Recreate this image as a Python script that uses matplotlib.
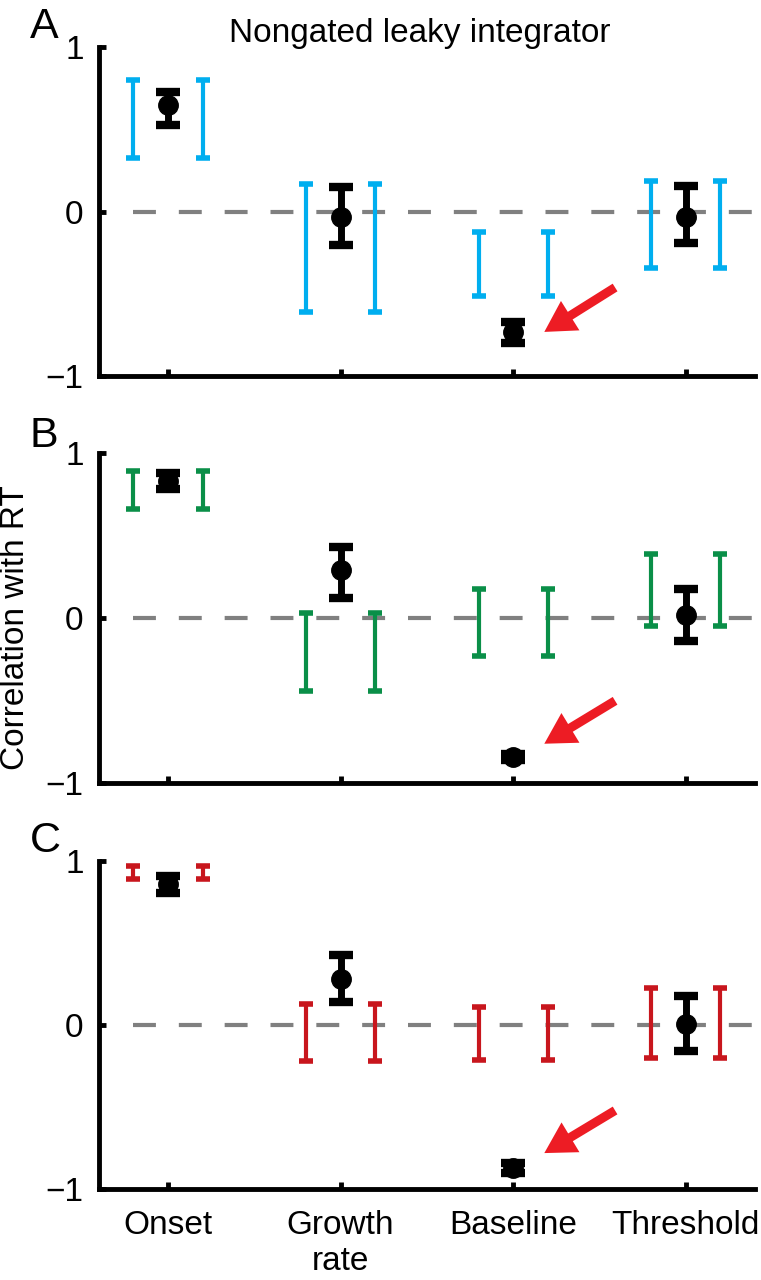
import matplotlib
matplotlib.use("Agg")
import matplotlib.pyplot as plt
import numpy as np

plt.rcParams['font.family'] = ['Liberation Sans', 'DejaVu Sans']

categorias = ['Onset', 'Growth\nrate', 'Baseline', 'Threshold']
paneles = ['A', 'B', 'C']
colores = ['#00AEEF', '#0A8F48', '#C8161D']

# intervalos de los modelos (bajo, alto) por panel
modelo_bajo = [[0.33, -0.61, -0.51, -0.34],
               [0.66, -0.44, -0.23, -0.05],
               [0.89, -0.22, -0.21, -0.20]]
modelo_alto = [[0.80, 0.17, -0.12, 0.19],
               [0.89, 0.03, 0.18, 0.39],
               [0.97, 0.13, 0.11, 0.23]]

# datos (media, bajo, alto)
datos_media = [[0.65, -0.03, -0.73, -0.03],
               [0.83, 0.29, -0.84, 0.02],
               [0.86, 0.28, -0.87, 0.01]]
datos_bajo = [[0.53, -0.20, -0.80, -0.19],
              [0.78, 0.12, -0.86, -0.14],
              [0.81, 0.14, -0.90, -0.16]]
datos_alto = [[0.73, 0.15, -0.67, 0.16],
              [0.88, 0.43, -0.82, 0.18],
              [0.91, 0.43, -0.84, 0.18]]

# flechas: (x_cola, y_cola, x_punta, y_punta)
flechas = [(3.59, -0.46, 3.18, -0.73),
           (3.59, -0.50, 3.18, -0.76),
           (3.59, -0.52, 3.18, -0.78)]

fig = plt.figure(figsize=(7.61, 12.8), dpi=100)
posiciones = [[0.130, 0.706, 0.862, 0.257],
              [0.130, 0.388, 0.862, 0.258],
              [0.130, 0.071, 0.862, 0.256]]
letras_y = [0.970, 0.651, 0.334]

x = np.arange(1, 5)
for i in range(3):
    ax = fig.add_axes(posiciones[i])
    ax.plot([0.8, 4.4], [0, 0], color='#808080', lw=3, dashes=(5.5, 5.5), zorder=1)
    lo = np.array(modelo_bajo[i])
    hi = np.array(modelo_alto[i])
    for off in (-0.2, 0.2):
        ax.errorbar(x + off, (lo + hi) / 2, yerr=(hi - lo) / 2, fmt='none',
                    ecolor=colores[i], elinewidth=3, capsize=5, capthick=4,
                    zorder=2, clip_on=False)
    m = np.array(datos_media[i])
    ax.errorbar(x, m, yerr=[m - np.array(datos_bajo[i]), np.array(datos_alto[i]) - m],
                fmt='o', color='black', ms=14, elinewidth=5, capsize=8.6,
                capthick=6, zorder=3, clip_on=False)
    xt, yt, xp, yp = flechas[i]
    ax.annotate('', xy=(xp, yp), xytext=(xt, yt),
                arrowprops=dict(facecolor='#ED1C24', edgecolor='none', width=6.5,
                                headwidth=25, headlength=22, shrink=0))
    ax.set_xlim(0.6, 4.4)
    ax.set_ylim(-1, 1)
    ax.set_yticks([-1, 0, 1])
    ax.set_xticks(x)
    if i == 2:
        ax.set_xticklabels(categorias)
    else:
        ax.set_xticklabels([])
    ax.spines['top'].set_visible(False)
    ax.spines['right'].set_visible(False)
    for s in ('left', 'bottom'):
        ax.spines[s].set_linewidth(3.5)
    ax.tick_params(direction='in', length=5, width=3.5, labelsize=24, pad=11)
    ax.tick_params(axis='x', pad=15)
    fig.text(0.039, letras_y[i], paneles[i], fontsize=31, va='baseline')

fig.text(0.552, 0.967, 'Nongated leaky integrator', fontsize=24, ha='center', va='baseline')
fig.text(0.020, 0.51, 'Correlation with RT', fontsize=24, rotation=90, ha='center', va='center')

fig.savefig('out.png', dpi=100)
